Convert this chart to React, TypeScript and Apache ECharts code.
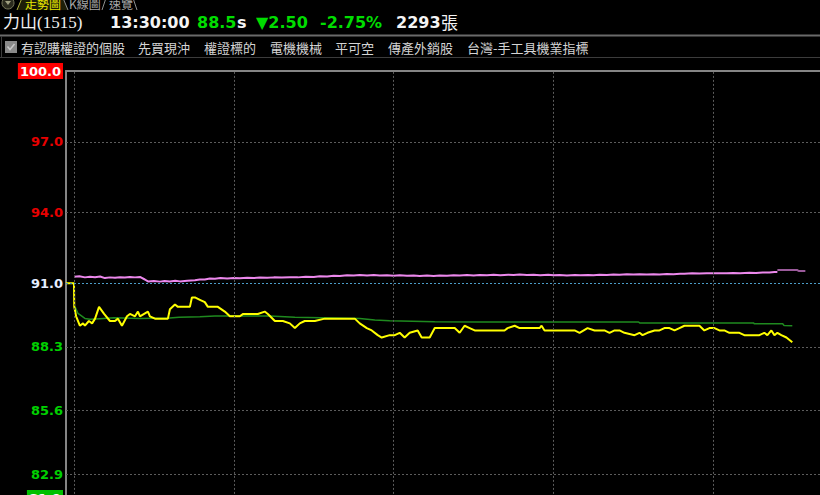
import React, { useEffect, useRef } from "react";
import * as echarts from "echarts";

// ---- data ----
const prevClose = 91.0;
const limitUp = 100.0;
const limitDown = 81.9;
const yTickValues = [100.0, 97.0, 94.0, 91.0, 88.3, 85.6, 82.9, 81.9];
const gridLineValues = [97.0, 94.0, 88.3, 85.6, 82.9];
const hourMarks = [0, 60, 120, 180, 240]; // minutes after 09:00

// [minutes after 09:00, price]
const priceSeries: [number, number][] = [
  [-3, 91.0], [0, 91.0], [0.1, 90.0], [0.8, 89.6], [2.2, 89.2], [3.4, 89.3], [4.1, 89.2], [5.6, 89.4],
  [6.8, 89.3], [7.9, 89.5], [9.4, 90.0], [11.3, 89.7], [13.5, 89.4], [15.4, 89.4], [16.5, 89.5], [18, 89.2],
  [19.9, 89.6], [21, 89.7], [22.9, 89.6], [24, 89.8], [24.75, 89.6], [27.75, 89.8], [28.5, 89.6], [30.4, 89.5],
  [35.25, 89.5], [36, 89.9], [37.9, 90.1], [39, 90.0], [43.5, 90.0], [44.25, 90.4], [45.4, 90.4], [47.25, 90.3],
  [49.1, 90.2], [50.25, 90.0], [54, 90.0], [56.6, 89.8], [58.5, 89.6], [62.25, 89.6], [63.5, 89.7], [65.25, 89.7],
  [69, 89.7], [71.6, 89.8], [72.75, 89.7], [75.4, 89.4], [78.4, 89.4], [81, 89.3], [82.9, 89.1], [84.75, 89.3],
  [86.6, 89.4], [90.4, 89.4], [94.1, 89.5], [105.4, 89.5], [107.25, 89.3], [109.9, 89.1], [111.75, 89.0], [114, 88.8],
  [115.5, 88.7], [118.5, 88.8], [120.4, 88.8], [122.25, 88.9], [124.1, 88.7], [126, 88.9], [129, 89.0], [130.5, 88.7],
  [133.5, 88.7], [135.4, 89.1], [142.9, 89.1], [144.75, 88.9], [146.6, 89.2], [148.5, 89.1], [150.4, 89.0], [152.25, 89.0],
  [156, 89.0], [161.6, 89.0], [162.75, 89.1], [165.4, 89.2], [167.25, 89.1], [174.75, 89.1], [175.5, 89.2], [176.6, 89.0],
  [178.5, 89.0], [187.9, 89.0], [189.75, 88.9], [192.75, 89.1], [195.4, 89.0], [199.1, 89.0], [201, 88.9], [202.9, 89.0],
  [204.75, 89.0], [206.6, 88.9], [210.4, 88.8], [212.25, 88.9], [213.4, 88.8], [215.25, 88.9], [217.9, 89.0], [219.75, 89.0],
  [221.6, 89.1], [223.5, 89.1], [225.4, 89.0], [227.25, 89.1], [229.1, 89.2], [234.75, 89.2], [236.6, 89.0], [238.5, 89.1],
  [240.4, 89.1], [242.25, 89.0], [244.1, 89.0], [246, 88.9], [249.75, 88.9], [251.6, 88.8], [257.25, 88.8], [259.1, 88.9],
  [260.25, 88.8], [261.75, 89.0], [262.9, 88.8], [264, 88.9], [265.5, 88.8], [267.4, 88.7], [269.6, 88.5],
];

const avgSeries: [number, number][] = [
  [0.4, 90.0], [1.5, 89.72], [4.1, 89.51], [6, 89.47], [9.75, 89.5], [15, 89.54], [24.75, 89.51], [36, 89.53],
  [39.4, 89.56], [47.25, 89.58], [52.9, 89.61], [73.5, 89.61], [82.9, 89.56], [107.25, 89.51], [112.9, 89.44],
  [118.5, 89.41], [135.4, 89.37], [152.25, 89.36], [211.9, 89.36], [212.3, 89.32], [255, 89.32], [255.4, 89.28],
  [266, 89.28], [266.5, 89.21], [269.6, 89.2],
];

const indexSeries: [number, number][] = [
  [0, 91.28], [2, 91.3], [4.1, 91.25], [6, 91.28], [7.9, 91.26], [9.8, 91.29], [11.6, 91.22], [13.5, 91.25],
  [15.4, 91.23], [17.2, 91.26], [19.1, 91.24], [21, 91.27], [22.9, 91.25], [24.75, 91.27], [26.6, 91.16], [27.75, 91.08],
  [30, 91.1], [32.25, 91.07], [34, 91.1], [36, 91.08], [38, 91.11], [39.75, 91.08], [42.5, 91.11], [45.4, 91.13],
  [47.2, 91.16], [49.1, 91.16], [51, 91.2], [52.9, 91.19], [55, 91.22], [57.5, 91.2], [60, 91.22], [62.25, 91.21],
  [65, 91.23], [67.5, 91.22], [69.75, 91.24], [72.5, 91.23], [75, 91.25], [78, 91.24], [81, 91.26], [84, 91.25],
  [87, 91.28], [90, 91.27], [92.25, 91.3], [95, 91.29], [97.5, 91.32], [99.75, 91.31], [102.5, 91.34], [105, 91.33],
  [107.25, 91.35], [110, 91.33], [112.5, 91.35], [114.75, 91.33], [117.5, 91.34], [120, 91.32], [122.25, 91.34], [125, 91.32],
  [127.5, 91.33], [129.75, 91.31], [132.5, 91.33], [135, 91.31], [137.25, 91.33], [140, 91.32], [142.5, 91.34], [144.75, 91.33],
  [147.5, 91.35], [150, 91.33], [152.25, 91.35], [155, 91.34], [157.5, 91.36], [160, 91.34], [163, 91.36], [165, 91.35],
  [167.25, 91.37], [170, 91.35], [172.5, 91.36], [175, 91.34], [178, 91.36], [180, 91.34], [182.25, 91.35], [185, 91.33],
  [188, 91.35], [190, 91.34], [193, 91.35], [195, 91.34], [197.25, 91.36], [200, 91.35], [202.5, 91.37], [204.75, 91.36],
  [207.5, 91.38], [210, 91.37], [212.25, 91.38], [215, 91.37], [217.5, 91.38], [219.75, 91.37], [222.5, 91.39], [225, 91.38],
  [227.5, 91.4], [229.1, 91.4], [232, 91.42], [234.75, 91.41], [237.5, 91.42], [240, 91.42], [242.25, 91.43], [245, 91.42],
  [247.5, 91.44], [250, 91.43], [253.5, 91.45], [256, 91.44], [258.5, 91.46], [261, 91.46], [262.9, 91.48], [264, 91.48],
];
const indexTail: [number, number][] = [[264, 91.56], [271.5, 91.56], [272, 91.52], [274.5, 91.52]];

const tabLabels = ["走勢圖", "K線圖", "速覽"];
const quoteName = "力山(1515)";
const quoteTime = "13:30:00";
const quotePrice = "88.5";
const quoteChange = "▼2.50";
const quotePct = "-2.75%";
const quoteVolume = "2293";
const quoteUnit = "張";
const filterTags = ["有認購權證的個股", "先買現沖", "權證標的", "電機機械", "平可空", "傳產外銷股", "台灣-手工具機業指標"];

// ---- layout ----
const tagX = [21, 138, 204, 270, 335, 388, 467];
const NUM_FONT = '"DejaVu Sans", Verdana, sans-serif';
const CJK_FONT = '"Noto Sans CJK TC", "Noto Sans CJK SC", sans-serif';

export default function App() {
  const ref = useRef<HTMLDivElement>(null);

  useEffect(() => {
    document.body.style.margin = "0";
    document.body.style.background = "#000";
    const chart = echarts.init(ref.current!, null, { renderer: "svg" });

    const labelBase = { fontFamily: NUM_FONT, fontWeight: "bold" as const, fontSize: 13 };
    const mid = { verticalAlign: "middle", textVerticalAlign: "middle" };

    const graphic: any[] = [
      // tab strip
      { type: "circle", shape: { cx: 8, cy: 3, r: 6 }, style: { fill: "#2b2b1e", stroke: "#77775a", lineWidth: 1 } },
      { type: "polygon", shape: { points: [[5, 1], [11, 1], [8, 5]] }, style: { fill: "#a0a080" } },
      { type: "polygon", shape: { points: [[22, -2], [63, -2], [68, 10], [17, 10]] }, style: { fill: "#1e1e08" } },
      { type: "line", shape: { x1: 17, y1: 10, x2: 22, y2: -2 }, style: { stroke: "#b0b040", lineWidth: 1 } },
      { type: "line", shape: { x1: 63, y1: -2, x2: 68, y2: 10 }, style: { stroke: "#909090", lineWidth: 1 } },
      { type: "text", x: 25, y: 3, style: { text: tabLabels[0], fill: "#e8e800", font: `12px ${CJK_FONT}`, ...mid } },
      { type: "text", x: 69, y: 3, style: { text: tabLabels[1], fill: "#a8a8a8", font: `12px ${CJK_FONT}`, ...mid } },
      { type: "line", shape: { x1: 102, y1: 10, x2: 106, y2: -2 }, style: { stroke: "#909090", lineWidth: 1 } },
      { type: "text", x: 109, y: 3, style: { text: tabLabels[2], fill: "#a8a8a8", font: `12px ${CJK_FONT}`, ...mid } },
      { type: "line", shape: { x1: 133, y1: -2, x2: 137, y2: 10 }, style: { stroke: "#909090", lineWidth: 1 } },
      // quote row
      { type: "text", x: 3, y: 22, style: { text: quoteName, fill: "#f0f0f0", font: `17px "Liberation Serif", ${CJK_FONT}`, ...mid } },
      { type: "text", x: 110, y: 22, style: { text: quoteTime, fill: "#f4f4f4", font: `bold 16px ${NUM_FONT}`, ...mid } },
      { type: "text", x: 197, y: 22, style: { text: quotePrice, fill: "#00dd00", font: `bold 16px ${NUM_FONT}`, ...mid } },
      { type: "text", x: 237, y: 22, style: { text: "s", fill: "#f4f4f4", font: `bold 16px ${NUM_FONT}`, ...mid } },
      { type: "text", x: 256, y: 22, style: { text: quoteChange, fill: "#00dd00", font: `bold 16px ${NUM_FONT}`, ...mid } },
      { type: "text", x: 320, y: 22, style: { text: quotePct, fill: "#00dd00", font: `bold 16px ${NUM_FONT}`, ...mid } },
      { type: "text", x: 396, y: 22, style: { text: quoteVolume, fill: "#f4f4f4", font: `bold 16px ${NUM_FONT}`, ...mid } },
      { type: "text", x: 441, y: 21, style: { text: quoteUnit, fill: "#f4f4f4", font: `17px ${CJK_FONT}`, ...mid } },
      // filter row
      { type: "line", shape: { x1: 0, y1: 35.5, x2: 820, y2: 35.5 }, style: { stroke: "#6a6a6a", lineWidth: 2 } },
      { type: "line", shape: { x1: 0, y1: 57.5, x2: 820, y2: 57.5 }, style: { stroke: "#3c3c3c", lineWidth: 1 } },
      { type: "line", shape: { x1: 1.5, y1: 36, x2: 1.5, y2: 58 }, style: { stroke: "#3c3c3c", lineWidth: 1 } },
      { type: "rect", shape: { x: 5, y: 41, width: 12, height: 12 }, style: { fill: "#8a8a8a" } },
      { type: "polyline", shape: { points: [[7.5, 46.5], [10, 49.5], [14.5, 44]] }, style: { stroke: "#c8c8c8", lineWidth: 1.5, fill: null } },
      ...filterTags.map((t, i) => ({
        type: "text", x: tagX[i], y: 47,
        style: { text: t, fill: "#d4d4d4", font: `13px ${CJK_FONT}`, ...mid },
      })),
    ];

    const option: any = {
      animation: false,
      backgroundColor: "#000000",
      grid: { left: 66, right: 0, top: 71, height: 426.9, containLabel: false, outerBoundsMode: "none" },
      xAxis: {
        type: "value", min: -3, max: 280, position: "top",
        axisLine: { show: true, onZero: false, lineStyle: { color: "#858585", width: 2 } },
        axisTick: { show: false }, axisLabel: { show: false }, splitLine: { show: false },
      },
      yAxis: {
        type: "value", min: limitDown, max: limitUp, position: "left",
        axisLine: { show: true, onZero: false, lineStyle: { color: "#858585", width: 2 } },
        axisTick: { show: false }, splitLine: { show: false },
        axisLabel: {
          show: true, margin: 3, showMinLabel: true, showMaxLabel: true,
          customValues: yTickValues,
          formatter: (v: number) => {
            const s = v.toFixed(1);
            if (v >= limitUp - 1e-6) return `{up|${s}}`;
            if (v <= limitDown + 1e-6) return `{dn|${s}}`;
            if (Math.abs(v - prevClose) < 1e-6) return `{flat|${s}}`;
            return v > prevClose ? `{red|${s}}` : `{grn|${s}}`;
          },
          rich: {
            up: { ...labelBase, color: "#ffffff", backgroundColor: "#ff0000", padding: [2, 2, 1, 2] },
            dn: { ...labelBase, color: "#ffffff", backgroundColor: "#00c000", padding: [2, 2, 1, 2] },
            flat: { ...labelBase, color: "#e6eeff" },
            red: { ...labelBase, color: "#e80000" },
            grn: { ...labelBase, color: "#00d000" },
          },
        },
      },
      graphic,
      series: [
        {
          type: "line", z: 1, silent: true, data: [[0, prevClose]], showSymbol: false,
          lineStyle: { opacity: 0 },
          markLine: {
            silent: true, symbol: "none", label: { show: false },
            lineStyle: { color: "#5c5c5c", type: [2, 2], width: 1 },
            data: [
              ...gridLineValues.map((v) => ({ yAxis: v })),
              { yAxis: prevClose, lineStyle: { color: "#4b9cc8", type: [2, 2], width: 1 } },
              ...hourMarks.map((m) => ({ xAxis: m })),
            ],
          },
        },
        {
          name: "index", type: "line", z: 2, data: indexSeries, showSymbol: false,
          lineStyle: { color: "#ec88ec", width: 2 },
        },
        {
          name: "indexTail", type: "line", z: 2, data: indexTail, showSymbol: false,
          lineStyle: { color: "#9a5a9a", width: 2 },
        },
        {
          name: "avg", type: "line", z: 3, data: avgSeries, showSymbol: false,
          lineStyle: { color: "#1f8a1f", width: 1.5 },
        },
        {
          name: "price", type: "line", z: 4, data: priceSeries, showSymbol: false,
          lineStyle: { color: "#ffff00", width: 2 },
        },
      ],
    };

    chart.setOption(option);
    return () => chart.dispose();
  }, []);

  return <div ref={ref} style={{ width: 820, height: 495, background: "#000" }} />;
}
